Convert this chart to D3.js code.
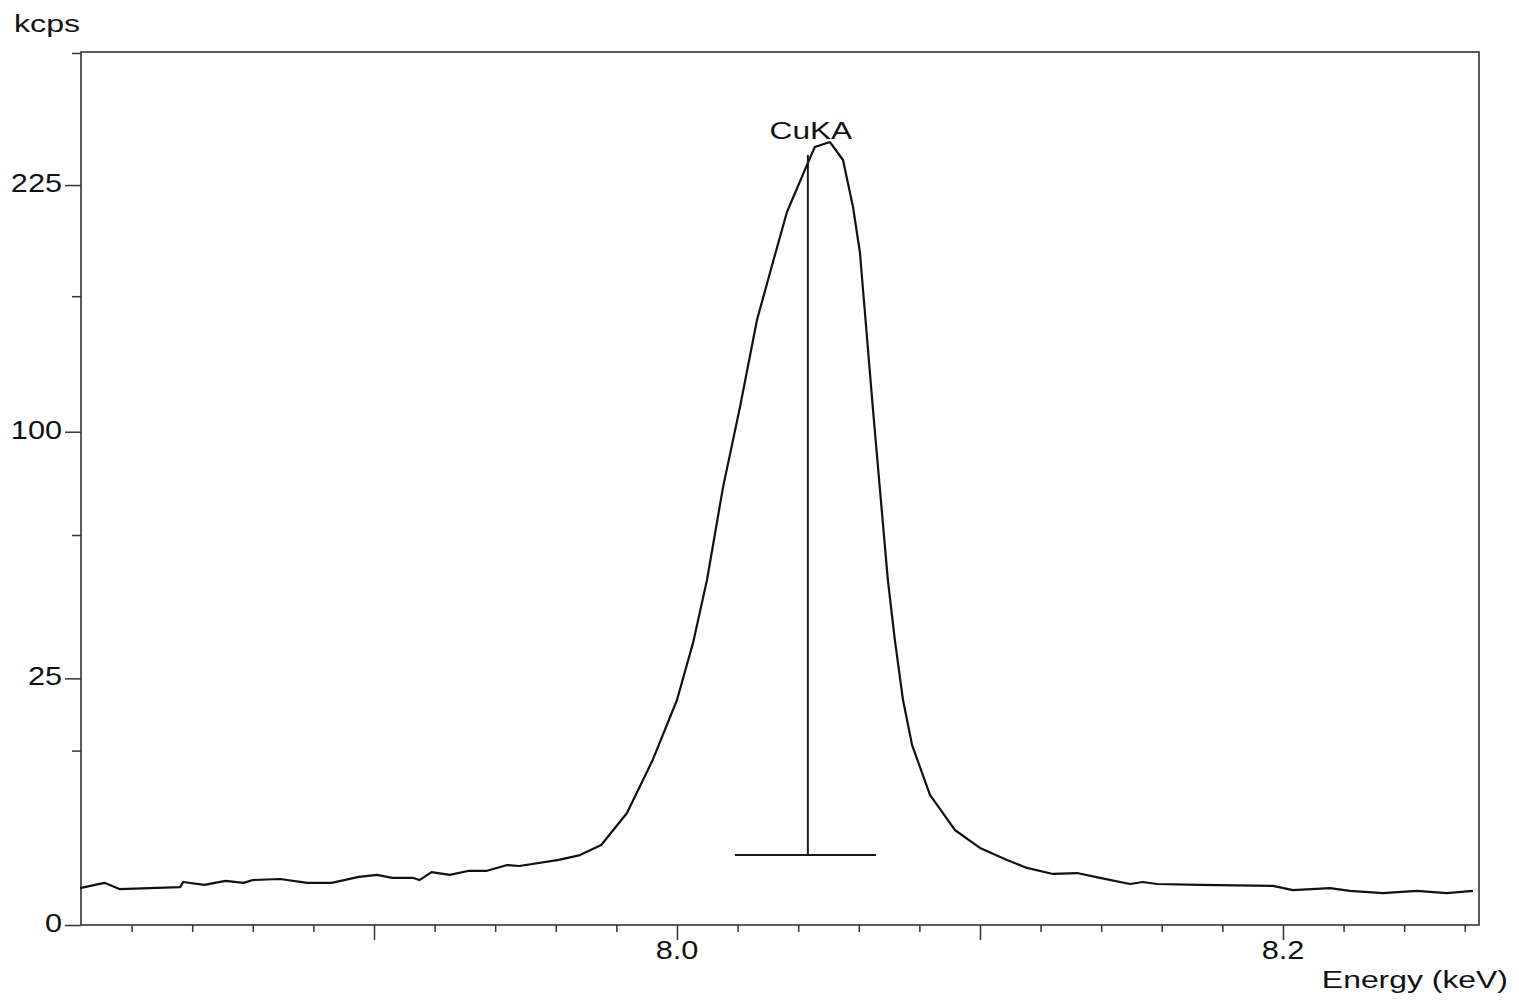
<!DOCTYPE html>
<html>
<head>
<meta charset="utf-8">
<script src="https://cdn.jsdelivr.net/npm/d3@7"></script>
<style>
  body { margin: 0; background: #fff; }
  svg text { font-family: "Liberation Sans", Arial, sans-serif; fill: #111; }
</style>
</head>
<body>
<div id="chart"></div>
<script>
// CuKA spectrum - counts (kcps, sqrt scale) vs energy (keV)

const energy = [7.803, 7.811, 7.816, 7.836, 7.837, 7.844, 7.851, 7.857, 7.860, 7.869,
  7.878, 7.886, 7.895, 7.901, 7.906, 7.913, 7.915, 7.919, 7.925, 7.931,
  7.937, 7.944, 7.948, 7.961, 7.968, 7.975, 7.9835, 7.992, 8.000, 8.0053,
  8.0099, 8.0152, 8.0208, 8.0264, 8.0314, 8.0363, 8.0439, 8.0455, 8.0505, 8.0548,
  8.0581, 8.0604, 8.0614, 8.0627, 8.0647, 8.0670, 8.0696, 8.0719, 8.0746, 8.0776,
  8.0835, 8.0917, 8.1000, 8.1089, 8.1155, 8.1241, 8.1320, 8.1396, 8.1495, 8.1538,
  8.1584, 8.1726, 8.1967, 8.2033, 8.2155, 8.2221, 8.2330, 8.2442, 8.2541, 8.2627];

const counts = [0.56, 0.73, 0.53, 0.59, 0.76, 0.66, 0.80, 0.73, 0.83, 0.87,
  0.73, 0.73, 0.95, 1.03, 0.91, 0.91, 0.83, 1.15, 1.03, 1.20,
  1.20, 1.48, 1.43, 1.74, 2.01, 2.63, 5.16, 11.2, 20.8, 32.7,
  48.9, 78.8, 110.3, 150.4, 179.0, 208.9, 241.8, 248.7, 251.9, 240.5,
  211.9, 185.6, 165.7, 142.1, 109.0, 77.8, 48.9, 33.4, 20.8, 13.3,
  6.95, 3.71, 2.44, 1.74, 1.34, 1.07, 1.11, 0.91, 0.69, 0.76,
  0.69, 0.66, 0.63, 0.50, 0.56, 0.48, 0.42, 0.48, 0.42, 0.48];

// peak marker
const peakName = 'CuKA';
const peakEnergy = 8.0432;
const peakTop = 243.6;
const peakBase = 2.01;
const peakBar = [8.0191, 8.0657];

// ticks
const yMajor = [0, 25, 100, 225];
const yMinor = [12.5, 62.5, 162.5, 312.5];
const xMajor = [7.9, 8.0, 8.1, 8.2];
const xMinor = [7.82, 7.84, 7.86, 7.88, 7.92, 7.94, 7.96, 7.98, 8.02, 8.04,
  8.06, 8.08, 8.12, 8.14, 8.16, 8.18, 8.22, 8.24, 8.26];
const xLabels = [8.0, 8.2];

function drawChart() {
    const margin = {top: 52, right: 40, bottom: 75, left: 81};
    const totalW = 1519, totalH = 1000;
    const width = totalW - margin.left - margin.right;
    const height = totalH - margin.top - margin.bottom;

    const root = d3.select('#chart').append('svg')
        .attr('width', totalW)
        .attr('height', totalH);

    const svg = root.append('g')
        .attr('transform', `translate(${margin.left},${margin.top})`);

    const xScale = d3.scaleLinear()
        .domain([7.8033, 8.2647])
        .range([0, width]);

    const yScale = d3.scaleSqrt()
        .domain([0, 313.2])
        .range([height, 0]);

    // stretched text helper (the original lettering is wide)
    function label(parent, x, y, str, size, sx, anchor) {
        return parent.append('text')
            .attr('transform', `translate(${x},${y}) scale(${sx},1)`)
            .attr('text-anchor', anchor)
            .style('font-size', size + 'px')
            .text(str);
    }

    // Y axis ticks (major + minor)
    const yAxisMajor = svg.append('g')
        .call(d3.axisLeft(yScale).tickValues(yMajor).tickSize(16).tickFormat(''));
    const yAxisMinor = svg.append('g')
        .call(d3.axisLeft(yScale).tickValues(yMinor).tickSize(9).tickFormat(''));

    // X axis ticks (major + minor)
    const xAxisMajor = svg.append('g')
        .attr('transform', `translate(0,${height})`)
        .call(d3.axisBottom(xScale).tickValues(xMajor).tickSize(15).tickFormat(''));
    const xAxisMinor = svg.append('g')
        .attr('transform', `translate(0,${height})`)
        .call(d3.axisBottom(xScale).tickValues(xMinor).tickSize(7).tickFormat(''));

    [yAxisMajor, yAxisMinor, xAxisMajor, xAxisMinor].forEach(a => {
        a.select('.domain').remove();
        a.selectAll('line').attr('stroke', '#333').attr('stroke-width', 1.5);
    });

    // frame
    svg.append('rect')
        .attr('x', 0)
        .attr('y', 0)
        .attr('width', width)
        .attr('height', height)
        .attr('fill', 'none')
        .attr('stroke', '#333')
        .attr('stroke-width', 1.6);

    // tick labels
    yMajor.forEach(v => {
        label(svg, -19, yScale(v) + 7, d3.format('d')(v), 26, 1.18, 'end');
    });
    xLabels.forEach(v => {
        label(svg, xScale(v), height + 34, d3.format('.1f')(v), 26, 1.18, 'middle');
    });

    // axis titles
    label(root, 14, 32, 'kcps', 24, 1.34, 'start');
    label(root, 1508, 988, 'Energy (keV)', 24, 1.33, 'end');

    // spectrum
    const data = energy.map((e, i) => ({e: e, c: counts[i]}));
    const line = d3.line()
        .x(d => xScale(d.e))
        .y(d => yScale(d.c));

    svg.append('path')
        .datum(data)
        .attr('d', line)
        .attr('fill', 'none')
        .attr('stroke', '#111')
        .attr('stroke-width', 2.2)
        .attr('stroke-linejoin', 'round');

    // peak marker
    svg.append('line')
        .attr('x1', xScale(peakEnergy))
        .attr('x2', xScale(peakEnergy))
        .attr('y1', yScale(peakTop))
        .attr('y2', yScale(peakBase))
        .attr('stroke', '#1a1a1a')
        .attr('stroke-width', 2);

    svg.append('line')
        .attr('x1', xScale(peakBar[0]))
        .attr('x2', xScale(peakBar[1]))
        .attr('y1', yScale(peakBase))
        .attr('y2', yScale(peakBase))
        .attr('stroke', '#1a1a1a')
        .attr('stroke-width', 2);

    label(svg, xScale(peakEnergy) + 3, yScale(peakTop) - 16, peakName, 24, 1.32, 'middle');
}

drawChart();
</script>
</body>
</html>
